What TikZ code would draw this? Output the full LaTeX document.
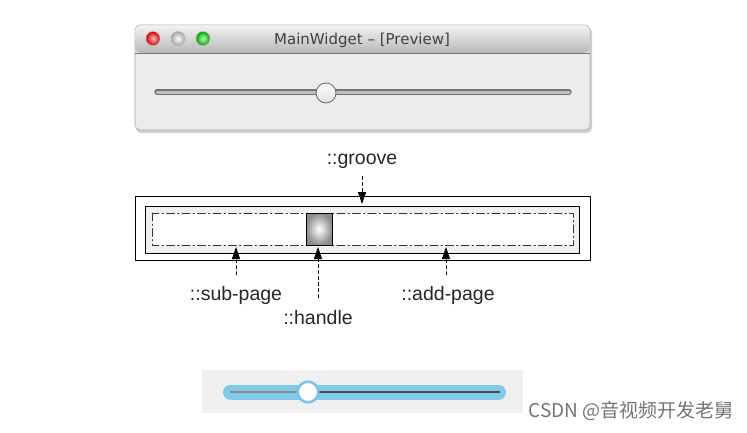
\documentclass[tikz,border=0pt]{standalone}
\usepackage{fontspec}
\setmainfont{Liberation Sans}
\newfontfamily\titlefont{DejaVu Sans}
\newfontfamily\cjkfont{Noto Sans CJK SC}
\usetikzlibrary{arrows.meta}
\definecolor{winbody}{RGB}{236,236,236}
\definecolor{pagebg}{RGB}{240,240,240}
\definecolor{skyline}{RGB}{130,202,236}
\definecolor{handleblue}{RGB}{120,195,240}
\begin{document}
\begin{tikzpicture}[x=1pt,y=-1pt,line cap=round,line join=round,
  frame/.style={draw=black,line width=0.9pt},
  dashdotbox/.style={draw=black!80,line width=0.8pt,dash pattern=on 8pt off 3pt on 1.5pt off 3pt},
  callout/.style={dash pattern=on 3pt off 3pt,line width=0.9pt,-{Triangle[length=12pt,width=8pt]}},
  light/.style={line width=0.4pt,draw=black!30},
  tag/.style={font=\fontsize{19.5}{22}\selectfont,inner sep=0pt,text=black!85}]
  \useasboundingbox (0,0) rectangle (747,432);

  % preview window
  \fill[black!18] (136,27) [rounded corners=5pt] -- (136,133) -- (592,133) -- (592,27) -- cycle;
  \fill[winbody,draw=black!35,line width=0.6pt] (135,25) [rounded corners=5pt] -- (135,130) -- (590,130) -- (590,25) -- cycle;
  \shade[top color=black!5,bottom color=black!28,rounded corners=5pt] (135.3,25.3) -- (135.3,53) -- (589.7,53) -- (589.7,25.3) -- cycle;
  \draw[black!55,line width=0.8pt] (135.3,53) -- (589.7,53);
  \shade[inner color=red!25,outer color=red!85!black,light] (153,38.5) circle (7);
  \shade[inner color=white,outer color=black!35,light] (178,38.5) circle (7);
  \shade[inner color=green!30,outer color=green!65!black,light] (203,38.5) circle (7);
  \node[font=\titlefont\fontsize{15}{18}\selectfont,text=black!75,inner sep=0pt] (title) at (362,40) {MainWidget – [Preview]};
  \draw[black!55,line width=5.5pt] (157,92) -- (569,92);
  \draw[black!25,line width=3pt] (157,92.5) -- (569,92.5);
  \shade[top color=white,bottom color=black!12,draw=black!60,line width=0.8pt] (326,93) circle (10);

  % sub-control layout
  \draw[frame] (135,196) rectangle (590,260);
  \draw[frame,fill=pagebg] (145,206) rectangle (579,253);
  \draw[dashdotbox,fill=white] (152,213) rectangle (573,245);
  \shade[inner color=white,outer color=black!45,draw=black,line width=0.9pt] (306,213) rectangle (332,245);

  \node[tag] (groove) at (362,161) {::groove};
  \node[tag] (subpage) at (236,295) {::sub-page};
  \node[tag] (handle) at (318,318) {::handle};
  \node[tag] (addpage) at (448,295) {::add-page};
  \coordinate (grooveTip) at (362,204);
  \coordinate (subTip) at (236,247);
  \coordinate (handleTip) at (318,247);
  \coordinate (addTip) at (446,247);
  \draw[callout,shorten <=8pt] (groove) -- (grooveTip);
  \draw[callout,shorten <=11pt] (subpage) -- (subTip);
  \draw[callout,shorten <=13pt] (handle) -- (handleTip);
  \draw[callout,shorten <=11pt] (addpage.north -| addTip) -- (addTip);

  % styled slider
  \fill[pagebg] (202,370) rectangle (523,413);
  \draw[skyline,line width=15pt] (230.5,392) -- (498.5,392);
  \draw[black!45,line width=2.5pt,line cap=butt] (230,392) -- (308,392);
  \draw[black!70,line width=2.5pt,line cap=butt] (308,392) -- (500,392);
  \draw[handleblue,fill=white,line width=2.5pt] (308,392) circle (10.3);

  \node[font=\cjkfont\fontsize{19}{22}\selectfont,text=black!55,anchor=east,inner sep=0pt] (mark) at (734,411) {CSDN @音视频开发老舅};
\end{tikzpicture}
\end{document}
